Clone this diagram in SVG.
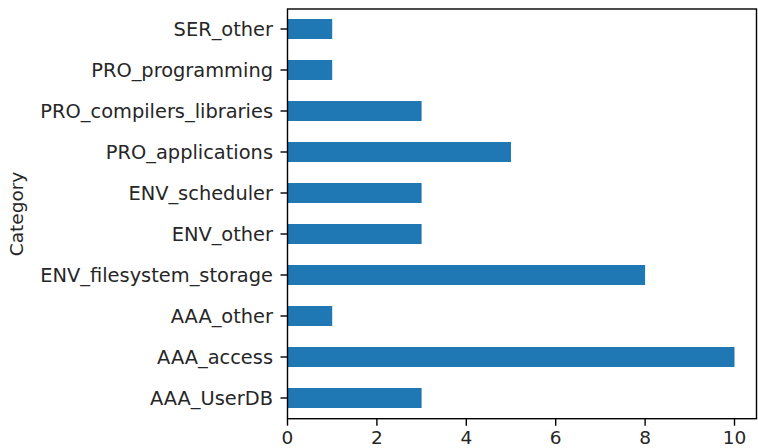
<svg xmlns="http://www.w3.org/2000/svg" width="758" height="448" viewBox="0 0 758 448">
<style>
.bar{fill:#1f77b4}
.tk{stroke:#000;stroke-width:1.4}
.lbl{font-family:"DejaVu Sans",sans-serif;font-size:19.4px;fill:#262626}
.yl{text-anchor:end;dominant-baseline:central}
.xl{text-anchor:middle;font-size:18.5px}
</style>
<rect width="758" height="448" fill="#fff"/>
<g id="bars">
<rect class="bar" x="287.5" y="19" width="44.7" height="20"/>
<rect class="bar" x="287.5" y="60" width="44.7" height="20"/>
<rect class="bar" x="287.5" y="101" width="134.1" height="20"/>
<rect class="bar" x="287.5" y="142" width="223.5" height="20"/>
<rect class="bar" x="287.5" y="183" width="134.1" height="20"/>
<rect class="bar" x="287.5" y="224" width="134.1" height="20"/>
<rect class="bar" x="287.5" y="265" width="357.6" height="20"/>
<rect class="bar" x="287.5" y="306" width="44.7" height="20"/>
<rect class="bar" x="287.5" y="347" width="447" height="20"/>
<rect class="bar" x="287.5" y="388" width="134.1" height="20"/>
</g>
<g id="axes">
<rect x="287.5" y="9" width="469" height="409.7" fill="none" stroke="#000" stroke-width="1.4"/>
<g class="tk">
<line x1="280.5" y1="29" x2="287.5" y2="29"/>
<line x1="280.5" y1="70" x2="287.5" y2="70"/>
<line x1="280.5" y1="111" x2="287.5" y2="111"/>
<line x1="280.5" y1="152" x2="287.5" y2="152"/>
<line x1="280.5" y1="193" x2="287.5" y2="193"/>
<line x1="280.5" y1="234" x2="287.5" y2="234"/>
<line x1="280.5" y1="275" x2="287.5" y2="275"/>
<line x1="280.5" y1="316" x2="287.5" y2="316"/>
<line x1="280.5" y1="357" x2="287.5" y2="357"/>
<line x1="280.5" y1="398" x2="287.5" y2="398"/>
<line x1="287.5" y1="418.7" x2="287.5" y2="425.7"/>
<line x1="376.9" y1="418.7" x2="376.9" y2="425.7"/>
<line x1="466.3" y1="418.7" x2="466.3" y2="425.7"/>
<line x1="555.7" y1="418.7" x2="555.7" y2="425.7"/>
<line x1="645.1" y1="418.7" x2="645.1" y2="425.7"/>
<line x1="734.5" y1="418.7" x2="734.5" y2="425.7"/>
</g>
</g>
<g id="ylabels" class="lbl yl">
<text x="273" y="29">SER_other</text>
<text x="273" y="70">PRO_programming</text>
<text x="273" y="111">PRO_compilers_libraries</text>
<text x="273" y="152">PRO_applications</text>
<text x="273" y="193">ENV_scheduler</text>
<text x="273" y="234">ENV_other</text>
<text x="273" y="275">ENV_filesystem_storage</text>
<text x="273" y="316">AAA_other</text>
<text x="273" y="357">AAA_access</text>
<text x="273" y="398">AAA_UserDB</text>
</g>
<g id="xlabels" class="lbl xl">
<text x="287.5" y="443.5">0</text>
<text x="376.9" y="443.5">2</text>
<text x="466.3" y="443.5">4</text>
<text x="555.7" y="443.5">6</text>
<text x="645.1" y="443.5">8</text>
<text x="734.5" y="443.5">10</text>
</g>
<text id="ytitle" class="lbl" style="font-size:18.5px" text-anchor="middle" transform="translate(23,214) rotate(-90)">Category</text>
</svg>
